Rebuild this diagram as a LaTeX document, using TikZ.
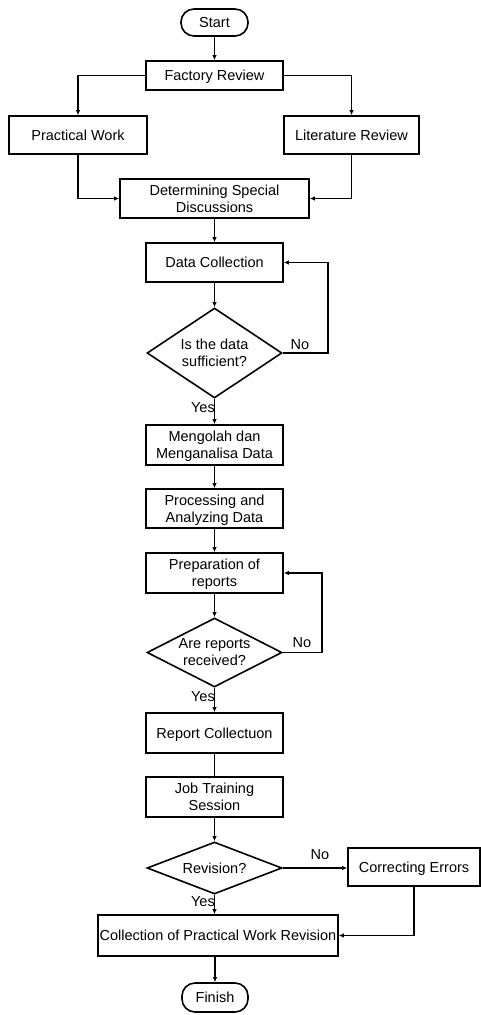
\documentclass[tikz,border=0pt]{standalone}
\usepackage{fontspec}
\setmainfont{Liberation Sans}
\usetikzlibrary{shapes.geometric,arrows.meta}
\begin{document}
\begin{tikzpicture}[x=1pt,y=-1pt,
  every node/.style={font=\fontsize{14.5}{17}\selectfont, text depth=0pt},
  proc/.style={draw, line width=1.6pt, align=center, inner sep=1pt},
  term/.style={draw, line width=1.6pt, rounded corners=13pt, inner sep=1pt},
  dec/.style={draw, diamond, line width=1.6pt, align=center, inner sep=0pt},
  lbl/.style={inner sep=1pt},
  arr/.style={line width=1.4pt, -{Latex[length=5pt,width=4.5pt]}},
  ln/.style={line width=1.4pt}]
\useasboundingbox (0,0) rectangle (481,1015);
\node[term, minimum width=67pt, minimum height=27pt] (start) at (214.5,22.5) {Start};
\node[proc, minimum width=137pt, minimum height=29pt] (factory) at (214.5,75.5) {Factory Review};
\node[proc, minimum width=138pt, minimum height=38pt] (practical) at (78,135) {Practical Work};
\node[proc, minimum width=135pt, minimum height=38pt] (literature) at (351.5,135) {Literature Review};
\node[proc, minimum width=189pt, minimum height=39pt] (determ) at (214.5,198.5) {Determining Special\\Discussions};
\node[proc, minimum width=137pt, minimum height=39pt] (datacoll) at (214.5,262.5) {Data Collection};
\node[dec, minimum width=135pt, minimum height=90pt, aspect=1.5] (d1) at (214.5,353) {Is the data\\sufficient?};
\node[proc, minimum width=137pt, minimum height=40pt] (mengolah) at (214.5,445) {Mengolah dan\\Menganalisa Data};
\node[proc, minimum width=137pt, minimum height=39pt] (processing) at (214.5,508.5) {Processing and\\Analyzing Data};
\node[proc, minimum width=137pt, minimum height=40pt] (prep) at (214.5,573) {Preparation of\\reports};
\node[dec, minimum width=135pt, minimum height=69pt, aspect=1.96] (d2) at (214.5,652.5) {Are reports\\received?};
\node[proc, minimum width=137pt, minimum height=40pt] (report) at (214.5,733) {Report Collectuon};
\node[proc, minimum width=137pt, minimum height=40pt] (job) at (214.5,797) {Job Training\\Session};
\node[dec, minimum width=135pt, minimum height=52pt, aspect=2.6] (d3) at (214.5,868) {Revision?};
\node[proc, minimum width=132pt, minimum height=38pt] (correct) at (414,867) {Correcting Errors};
\node[proc, minimum width=240pt, minimum height=41pt] (colrev) at (218,935.5) {Collection of Practical Work Revision};
\node[term, minimum width=66pt, minimum height=29pt] (finish) at (215,997.5) {Finish};

\node[lbl] (no1) at (300,345) {No};
\node[lbl, anchor=east] (yes1) at (216,408) {Yes};
\node[lbl] (no2) at (302,643) {No};
\node[lbl, anchor=east] (yes2) at (216,697) {Yes};
\node[lbl] (no3) at (320,855) {No};
\node[lbl, anchor=east] (yes3) at (216,902) {Yes};

\draw[arr] (start) -- (factory);
\draw[arr] (factory.west) -| (practical.north);
\draw[arr] (factory.east) -| (literature.north);
\draw[arr] (practical.south) |- (determ.west);
\draw[arr] (literature.south) |- (determ.east);
\draw[arr] (determ) -- (datacoll);
\draw[arr] (datacoll) -- (d1);
\draw[arr] (d1.east) -- ++(45,0) |- (datacoll.east);
\draw[arr] (d1) -- (mengolah);
\draw[arr] (mengolah) -- (processing);
\draw[arr] (processing) -- (prep);
\draw[arr] (prep) -- (d2);
\draw[arr] (d2.east) -- ++(39,0) |- (prep.east);
\draw[arr] (d2) -- (report);
\draw[ln] (report) -- (job);
\draw[arr] (job) -- (d3);
\draw[arr] (d3.east) -- (d3.east -| correct.west);
\draw[arr] (d3.south) -- (d3.south |- colrev.north);
\draw[arr] (correct.south) |- (colrev.east);
\draw[arr] (finish.north |- colrev.south) -- (finish.north);
\end{tikzpicture}
\end{document}
